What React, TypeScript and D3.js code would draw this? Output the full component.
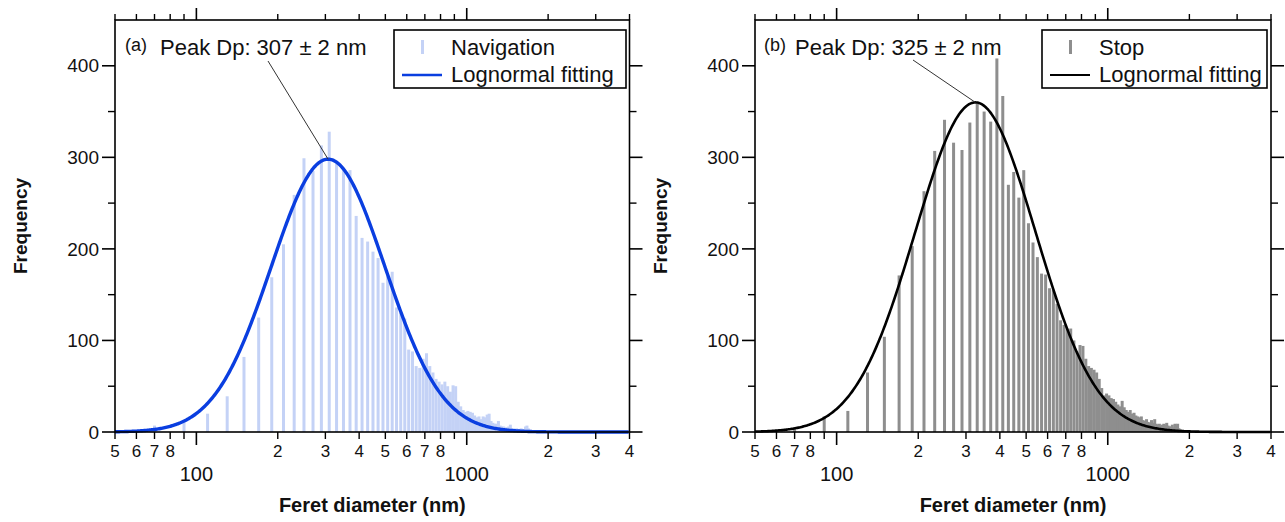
import React from "react";
import * as d3 from "d3";

// ---- Data ----
// Histogram bins: centres start at 70 nm, 20 nm apart
const BIN_START_NM = 70;
const BIN_STEP_NM = 20;

// (a) Navigation counts, bins 70..1710 nm
const navigationCounts = [
  7, 12, 20, 39, 82, 125, 169, 205, 259, 299, 285, 313, 328, 293, 287, 286, 236, 212, 208, 197,
  190, 163, 170, 175, 136, 130, 124, 90, 88, 72, 70, 80, 86, 72, 65, 58, 55, 52, 55, 50,
  44, 51, 50, 33, 28, 24, 22, 23, 22, 21, 18, 16, 17, 14, 17, 16, 19, 20, 12, 10,
  9, 9, 12, 7, 6, 6, 5, 5, 6, 8, 4, 4, 3, 4, 3, 3, 4, 3, 3, 6, 7, 4, 2,
];

// (b) Stop counts, bins 70..1850 nm
const stopCounts = [
  5, 17, 23, 65, 104, 171, 203, 263, 307, 341, 316, 308, 338, 359, 350, 339, 408, 367, 270, 284,
  256, 286, 228, 207, 191, 173, 172, 157, 155, 140, 122, 117, 113, 113, 100, 88, 95, 94, 80, 72,
  70, 68, 65, 58, 48, 40, 42, 40, 37, 36, 33, 30, 28, 34, 27, 24, 22, 24, 20, 21,
  18, 17, 16, 17, 13, 12, 14, 11, 10, 13, 10, 14, 9, 8, 9, 7, 8, 9, 8, 10,
  7, 6, 6, 8, 5, 9, 7, 9, 4, 3,
];

// Lognormal fit parameters: [peak diameter nm, amplitude, sigma (log10)]
const navigationFit = [307, 298, 0.21];
const stopFit = [325, 360, 0.222];

// Axis ticks
const xDomain = [50, 4000];
const yDomain = [0, 450];
const xMajorTicks = [100, 1000];
const xMinorTicks = [50, 60, 70, 80, 90, 200, 300, 400, 500, 600, 700, 800, 900, 2000, 3000, 4000];
const xMinorLabels = ["5", "6", "7", "8", "", "2", "3", "4", "5", "6", "7", "8", "", "2", "3", "4"];
const yMajorTicks = [0, 100, 200, 300, 400];
const yMinorTicks = [50, 150, 250, 350];

const FONT = "'Liberation Sans', Arial, Helvetica, sans-serif";

type PanelProps = {
  x0: number;
  x1: number;
  counts: number[];
  fit: number[];
  barColor: string;
  curveColor: string;
  curveWidth: number;
  tag: string;
  tagX: number;
  peakText: string;
  peakX: number;
  legendName: string;
  legendX: number;
  legendW: number;
  leaderX: number;
  leaderY: number;
};

function Panel(p: PanelProps) {
  const yTop = 20;
  const yBot = 432;
  const x = d3.scaleLog().domain(xDomain).range([p.x0, p.x1]);
  const y = d3.scaleLinear().domain(yDomain).range([yBot, yTop]);

  const bins = p.counts.map((c, i) => ({ d: BIN_START_NM + i * BIN_STEP_NM, c }));
  const [peak, amp, sig] = p.fit;
  const fitFn = (d: number) => amp * Math.exp(-Math.pow(Math.log10(d / peak), 2) / (2 * sig * sig));
  const logs = d3.range(Math.log10(xDomain[0]), Math.log10(xDomain[1]) + 1e-9, 0.004);
  const line = d3
    .line<number>()
    .x((l) => x(Math.pow(10, l)))
    .y((l) => y(fitFn(Math.pow(10, l))))
    .curve(d3.curveLinear);

  const barW = 3;
  const lx = p.legendX;
  return (
    <g>
      {/* bars */}
      {bins.map((b, i) => (
        <rect
          key={i}
          x={x(b.d) - barW / 2}
          y={y(b.c)}
          width={barW}
          height={yBot - y(b.c)}
          fill={p.barColor}
        />
      ))}
      {/* fit */}
      <path d={line(logs) || ""} fill="none" stroke={p.curveColor} strokeWidth={p.curveWidth} strokeLinejoin="round" />

      {/* frame */}
      <rect x={p.x0} y={yTop} width={p.x1 - p.x0} height={yBot - yTop} fill="none" stroke="#000" strokeWidth={1.6} />

      {/* x ticks bottom & top */}
      {xMajorTicks.map((t) => (
        <g key={"M" + t}>
          <line x1={x(t)} x2={x(t)} y1={yBot} y2={yBot + 13} stroke="#000" strokeWidth={1.6} />
          <line x1={x(t)} x2={x(t)} y1={yTop} y2={yTop - 12} stroke="#000" strokeWidth={1.6} />
          <text x={x(t)} y={481} textAnchor="middle" fontSize={20} fontFamily={FONT} fill="#111">
            {t}
          </text>
        </g>
      ))}
      {xMinorTicks.map((t, i) => (
        <g key={"m" + t}>
          <line x1={x(t)} x2={x(t)} y1={yBot} y2={yBot + 7} stroke="#000" strokeWidth={1.4} />
          <line x1={x(t)} x2={x(t)} y1={yTop} y2={yTop - 6} stroke="#000" strokeWidth={1.4} />
          {xMinorLabels[i] && (
            <text x={x(t)} y={457} textAnchor="middle" fontSize={17} fontFamily={FONT} fill="#111">
              {xMinorLabels[i]}
            </text>
          )}
        </g>
      ))}

      {/* y ticks left & right */}
      {yMajorTicks.map((t) => (
        <g key={"Y" + t}>
          <line x1={p.x0} x2={p.x0 - 13} y1={y(t)} y2={y(t)} stroke="#000" strokeWidth={1.6} />
          <line x1={p.x1} x2={p.x1 + 13} y1={y(t)} y2={y(t)} stroke="#000" strokeWidth={1.6} />
          <text x={p.x0 - 16} y={y(t)} dy="0.35em" textAnchor="end" fontSize={19} fontFamily={FONT} fill="#111">
            {t}
          </text>
        </g>
      ))}
      {yMinorTicks.map((t) => (
        <g key={"y" + t}>
          <line x1={p.x0} x2={p.x0 - 7} y1={y(t)} y2={y(t)} stroke="#000" strokeWidth={1.4} />
          <line x1={p.x1} x2={p.x1 + 7} y1={y(t)} y2={y(t)} stroke="#000" strokeWidth={1.4} />
        </g>
      ))}

      {/* axis titles */}
      <text
        transform={`translate(${p.x0 - 88},${(yTop + yBot) / 2}) rotate(-90)`}
        textAnchor="middle"
        fontSize={19}
        fontWeight="bold"
        fontFamily={FONT}
        fill="#111"
      >
        Frequency
      </text>
      <text x={(p.x0 + p.x1) / 2} y={512} textAnchor="middle" fontSize={20} fontWeight="bold" fontFamily={FONT} fill="#111">
        Feret diameter (nm)
      </text>

      {/* annotation */}
      <text x={p.tagX} y={51} fontSize={18} fontFamily={FONT} fill="#111">
        {p.tag}
      </text>
      <text x={p.peakX} y={55} fontSize={22} fontFamily={FONT} fill="#111">
        {p.peakText}
      </text>
      <line x1={p.leaderX} y1={p.leaderY} x2={x(peak)} y2={y(amp)} stroke="#333" strokeWidth={1} />

      {/* legend */}
      <rect x={lx} y={30} width={p.legendW} height={58} fill="#fff" stroke="#000" strokeWidth={1.6} />
      <rect x={lx + 27} y={40} width={3} height={14} fill={p.barColor} />
      <text x={lx + 57} y={55} fontSize={22} fontFamily={FONT} fill="#111">
        {p.legendName}
      </text>
      <line x1={lx + 8} x2={lx + 48} y1={75} y2={75} stroke={p.curveColor} strokeWidth={p.curveWidth * 0.8} />
      <text x={lx + 57} y={82} fontSize={22} fontFamily={FONT} fill="#111">
        Lognormal fitting
      </text>
    </g>
  );
}

export default function App() {
  return (
    <svg
      width={1285}
      height={522}
      viewBox="0 0 1285 522"
      style={{ position: "absolute", left: 0, top: 0, background: "#fff" }}
    >
      <rect width={1285} height={522} fill="#fff" />
      <Panel
        x0={115}
        x1={629.5}
        counts={navigationCounts}
        fit={navigationFit}
        barColor="#c4d2f6"
        curveColor="#0a3ee0"
        curveWidth={3.4}
        tag="(a)"
        tagX={125}
        peakText="Peak Dp: 307 ± 2 nm"
        peakX={160}
        legendName="Navigation"
        legendX={394}
        legendW={232}
        leaderX={268}
        leaderY={61}
      />
      <Panel
        x0={755}
        x1={1271}
        counts={stopCounts}
        fit={stopFit}
        barColor="#8e8e8e"
        curveColor="#000"
        curveWidth={2.6}
        tag="(b)"
        tagX={764}
        peakText="Peak Dp: 325 ± 2 nm"
        peakX={795}
        legendName="Stop"
        legendX={1042}
        legendW={225}
        leaderX={913}
        leaderY={60}
      />
    </svg>
  );
}
